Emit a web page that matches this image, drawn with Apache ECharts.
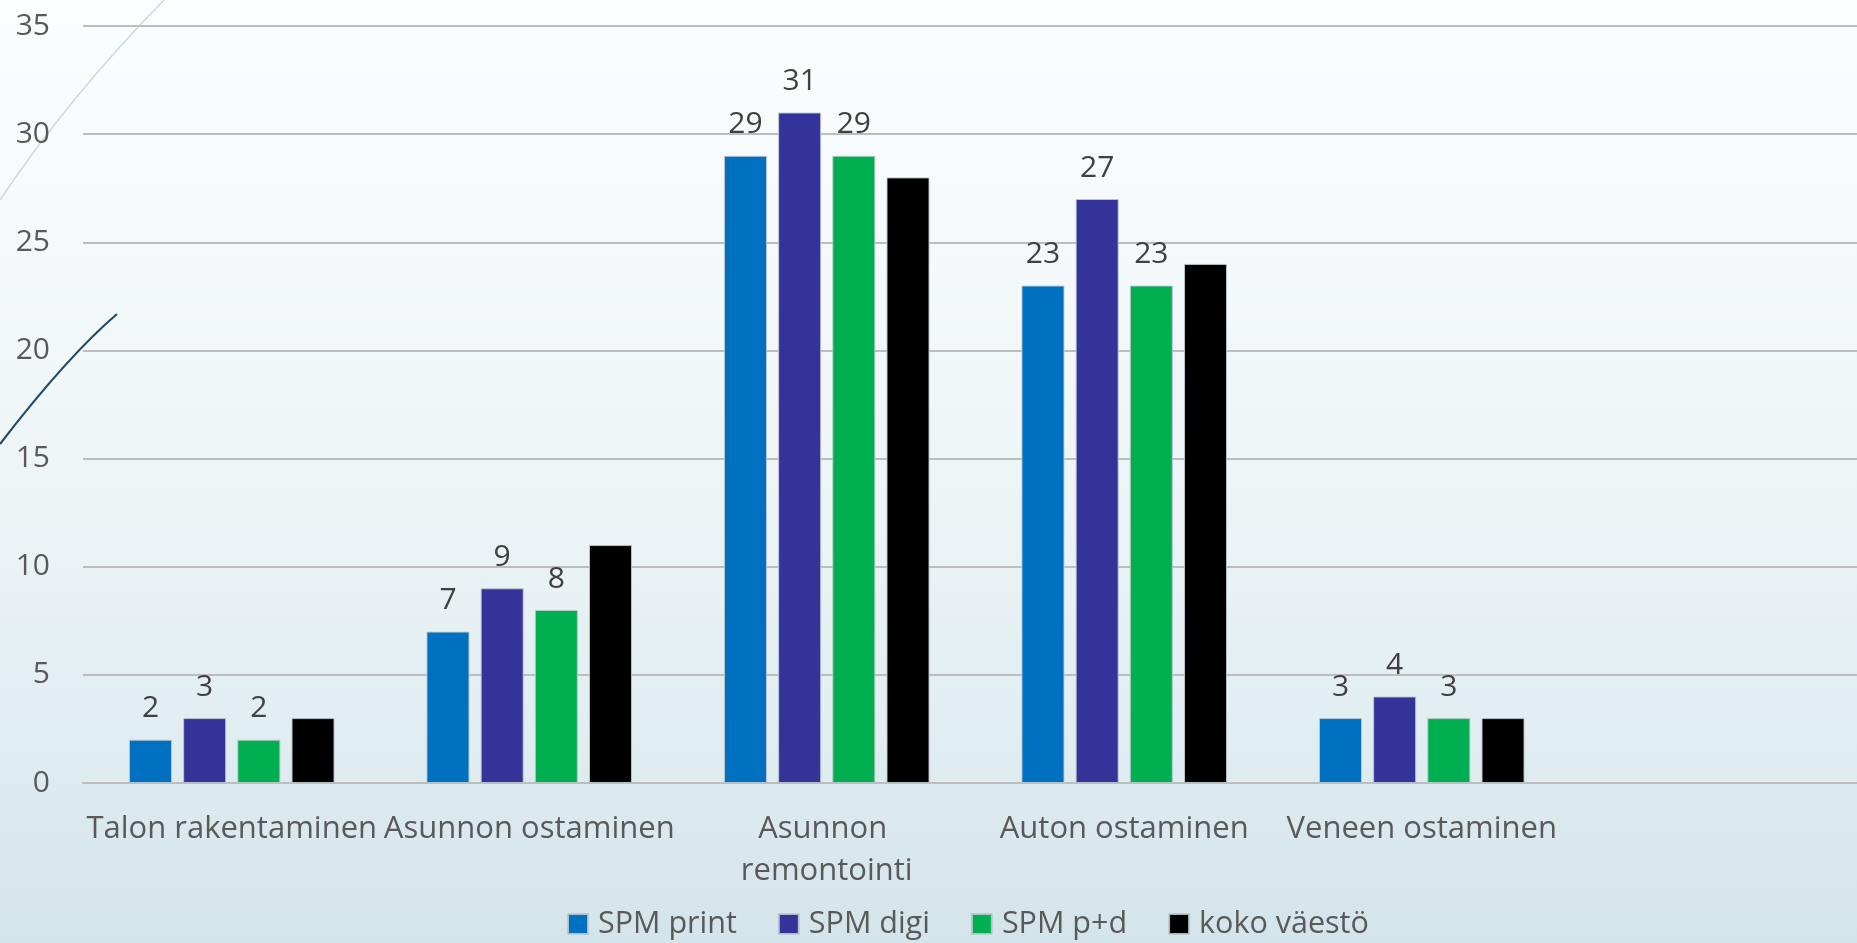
<!DOCTYPE html>
<html>
<head>
<meta charset="utf-8">
<script src="https://cdn.jsdelivr.net/npm/echarts@6/dist/echarts.min.js"></script>
<style>
html,body{margin:0;padding:0;width:1857px;height:943px;overflow:hidden;}
#c{width:1857px;height:943px;}
</style>
</head>
<body>
<div id="c"></div>
<script>
const categories = ['Talon rakentaminen', 'Asunnon ostaminen', 'Asunnon remontointi', 'Auton ostaminen', 'Veneen ostaminen'];
const seriesNames = ['SPM print', 'SPM digi', 'SPM p+d', 'koko väestö'];
const spmPrint = [2, 7, 29, 23, 3];
const spmDigi = [3, 9, 31, 27, 4];
const spmPD = [2, 8, 29, 23, 3];
const kokoVaesto = [3, 11, 28, 24, 3];
const yTicks = [0, 5, 10, 15, 20, 25, 30, 35];

const colors = ['#0070C0', '#333399', '#00B050', '#000000'];
const values = [spmPrint, spmDigi, spmPD, kokoVaesto];
const showLabels = [true, true, true, false];
const FONT = '"Open Sans", "Noto Sans", sans-serif';

const chart = echarts.init(document.getElementById('c'), null, {renderer: 'canvas'});

const series = seriesNames.map((name, i) => ({
  name: name,
  type: 'bar',
  data: values[i],
  barWidth: 43,
  barGap: '26%',
  itemStyle: {color: colors[i], borderColor: 'rgba(190,200,205,0.9)', borderWidth: 1},
  label: {
    show: showLabels[i],
    position: 'top',
    distance: 16,
    color: '#404040',
    fontSize: 30,
    fontFamily: FONT
  },
  emphasis: {disabled: true}
}));

chart.setOption({
  animation: false,
  backgroundColor: {
    type: 'linear', x: 0, y: 0, x2: 0, y2: 1,
    colorStops: [
      {offset: 0, color: '#fbfdfe'},
      {offset: 0.45, color: '#f0f6f8'},
      {offset: 0.75, color: '#e2eef2'},
      {offset: 1, color: '#d3e4ea'}
    ]
  },
  graphic: [
    {type: 'bezierCurve', silent: true, z: 0,
     shape: {x1: 0, y1: 200, x2: 164, y2: 0, cpx1: 60, cpy1: 110, cpx2: 120, cpy2: 45},
     style: {stroke: '#c9d9e1', lineWidth: 1.5, fill: null}},
    {type: 'bezierCurve', silent: true, z: 0,
     shape: {x1: 0, y1: 444, x2: 117, y2: 314, cpx1: 30, cpy1: 405, cpx2: 75, cpy2: 350},
     style: {stroke: '#1f4d6b', lineWidth: 2.2, fill: null}}
  ],
  grid: {left: 83, right: -11, top: 26, bottom: 160, containLabel: false, outerBoundsMode: 'none'},
  legend: {
    data: seriesNames,
    left: 567,
    top: 906,
    padding: 0,
    itemWidth: 20,
    itemHeight: 20,
    itemGap: 41,
    icon: 'rect',
    textStyle: {color: '#595959', fontSize: 30.5, fontFamily: FONT, lineHeight: 36, padding: [0, 0, 0, 5]}
  },
  xAxis: {
    type: 'category',
    data: categories,
    max: 5,
    axisLine: {lineStyle: {color: '#bdbdbd', width: 2}},
    axisTick: {show: false},
    axisLabel: {
      interval: 0,
      color: '#595959',
      fontSize: 31,
      fontFamily: FONT,
      lineHeight: 42,
      margin: 25,
      width: 298,
      overflow: 'break',
      formatter: function (v) { return (v === undefined || v === null || v === 'undefined') ? '' : v; }
    },
    splitLine: {show: false}
  },
  yAxis: {
    type: 'value',
    min: yTicks[0],
    max: yTicks[yTicks.length - 1],
    interval: 5,
    axisLine: {show: false},
    axisTick: {show: false},
    axisLabel: {color: '#595959', fontSize: 30, fontFamily: FONT, margin: 33},
    splitLine: {lineStyle: {color: '#bdbdbd', width: 2}}
  },
  series: series
});
</script>
</body>
</html>
